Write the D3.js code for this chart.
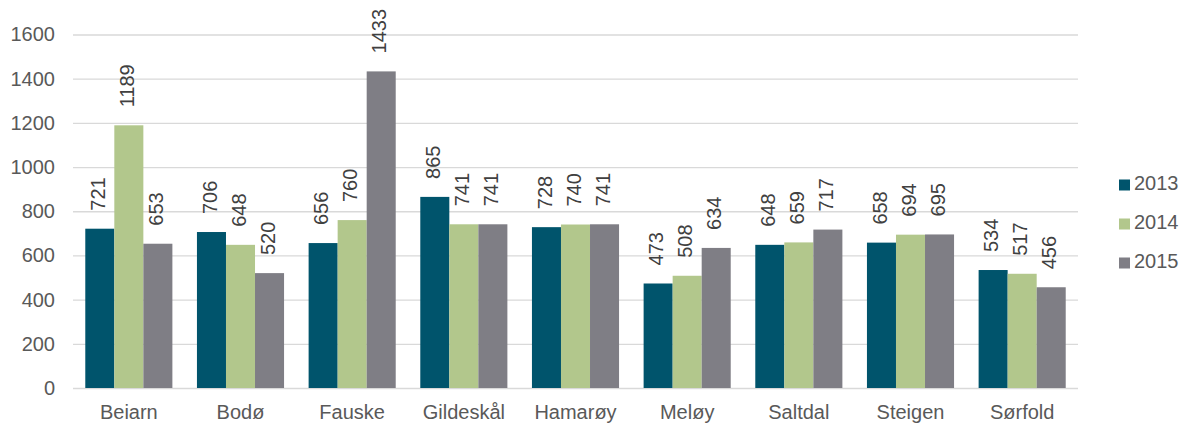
<!DOCTYPE html>
<html><head><meta charset="utf-8">
<script src="https://cdn.jsdelivr.net/npm/d3@7"></script>
<style>body{margin:0;background:#fff}svg text{font-family:"Liberation Sans",Arial,sans-serif}</style>
</head><body>
<svg id="c" width="1184" height="424"></svg>
<script>
const categories = ["Beiarn","Bodø","Fauske","Gildeskål","Hamarøy","Meløy","Saltdal","Steigen","Sørfold"];
const seriesNames = ["2013","2014","2015"];
const v2013 = [721,706,656,865,728,473,648,658,534];
const v2014 = [1189,648,760,741,740,508,659,694,517];
const v2015 = [653,520,1433,741,741,634,717,695,456];
const yTicks = [0,200,400,600,800,1000,1200,1400,1600];
const colors = ["#00546c","#b2c78c","#7f7e85"];

const series = [v2013, v2014, v2015];
const svg = d3.select("#c");
const pLeft = 73, pRight = 1078, pTop = 34.5, pBottom = 388;
const x = d3.scaleBand().domain(categories).range([pLeft, pRight]).paddingInner(0.22).paddingOuter(0.11);
const xs = d3.scaleBand().domain(seriesNames).range([0, x.bandwidth()]);
const y = d3.scaleLinear().domain([0,1600]).range([pBottom, pTop]);

const gAxisY = svg.append("g").attr("transform", `translate(${pLeft},0)`)
  .call(d3.axisLeft(y).tickValues(yTicks).tickSize(-(pRight-pLeft)).tickPadding(18).tickFormat(d3.format("d")));
gAxisY.select(".domain").remove();
gAxisY.selectAll(".tick line").attr("stroke","#d9d9d9").attr("stroke-width",1.3);
gAxisY.selectAll(".tick text").attr("fill","#595959").attr("font-size",20);

const gAxisX = svg.append("g").attr("transform", `translate(0,${pBottom})`)
  .call(d3.axisBottom(x).tickSize(0).tickPadding(17));
gAxisX.select(".domain").remove();
gAxisX.selectAll(".tick text").attr("fill","#595959").attr("font-size",20);

const groups = svg.append("g").selectAll("g").data(categories).join("g")
  .attr("transform", d => `translate(${x(d)},0)`);
seriesNames.forEach((s, si) => {
  groups.append("rect")
    .attr("x", xs(s)).attr("width", xs.bandwidth())
    .attr("y", (d,i) => y(series[si][i]))
    .attr("height", (d,i) => pBottom - y(series[si][i]))
    .attr("fill", colors[si]);
  groups.append("text")
    .attr("transform", (d,i) => `translate(${xs(s)+xs.bandwidth()/2},${y(series[si][i]) - 18}) rotate(-90)`)
    .attr("dominant-baseline","middle")
    .attr("text-anchor","start")
    .attr("fill","#404040").attr("font-size",20)
    .text((d,i) => series[si][i]);
});

const legend = svg.append("g").selectAll("g").data(seriesNames).join("g")
  .attr("transform", (d,i) => `translate(1119,${185 + i*39})`);
legend.append("rect").attr("x",0).attr("y",-5.5).attr("width",11).attr("height",11).attr("fill",(d,i)=>colors[i]);
legend.append("text").attr("x",15).attr("y",0).attr("dominant-baseline","middle")
  .attr("fill","#595959").attr("font-size",20).text(d=>d);
</script>
</body></html>
